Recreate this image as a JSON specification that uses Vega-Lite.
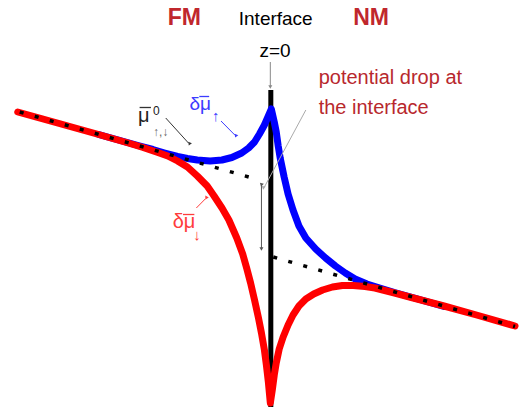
{
  "$schema": "https://vega.github.io/schema/vega-lite/v6.json",
  "width": 522,
  "height": 411,
  "padding": 0,
  "autosize": {"type": "fit", "contains": "padding"},
  "background": "white",
  "config": {"view": {"stroke": null}},
  "datasets": {
    "curves": [
      {"s": "blue", "i": 1, "x": 100, "y": 134.5},
      {"s": "blue", "i": 2, "x": 120, "y": 140},
      {"s": "blue", "i": 3, "x": 140, "y": 145.5},
      {"s": "blue", "i": 4, "x": 155, "y": 149.5},
      {"s": "blue", "i": 5, "x": 167, "y": 153},
      {"s": "blue", "i": 6, "x": 180, "y": 156.5},
      {"s": "blue", "i": 7, "x": 190, "y": 158.5},
      {"s": "blue", "i": 8, "x": 200, "y": 160},
      {"s": "blue", "i": 9, "x": 213, "y": 161},
      {"s": "blue", "i": 10, "x": 225, "y": 160},
      {"s": "blue", "i": 11, "x": 235, "y": 157.5},
      {"s": "blue", "i": 12, "x": 245, "y": 153},
      {"s": "blue", "i": 13, "x": 252, "y": 148},
      {"s": "blue", "i": 14, "x": 258, "y": 142},
      {"s": "blue", "i": 15, "x": 263, "y": 134},
      {"s": "blue", "i": 16, "x": 268, "y": 125},
      {"s": "blue", "i": 17, "x": 272, "y": 116},
      {"s": "blue", "i": 18, "x": 275, "y": 109},
      {"s": "blue", "i": 19, "x": 278, "y": 122},
      {"s": "blue", "i": 20, "x": 280, "y": 132},
      {"s": "blue", "i": 21, "x": 282, "y": 146},
      {"s": "blue", "i": 22, "x": 284, "y": 158},
      {"s": "blue", "i": 23, "x": 288, "y": 177},
      {"s": "blue", "i": 24, "x": 292, "y": 194},
      {"s": "blue", "i": 25, "x": 297, "y": 210},
      {"s": "blue", "i": 26, "x": 303, "y": 226},
      {"s": "blue", "i": 27, "x": 310, "y": 238},
      {"s": "blue", "i": 28, "x": 320, "y": 249},
      {"s": "blue", "i": 29, "x": 330, "y": 258},
      {"s": "blue", "i": 30, "x": 340, "y": 266},
      {"s": "blue", "i": 31, "x": 350, "y": 273},
      {"s": "blue", "i": 32, "x": 360, "y": 279},
      {"s": "blue", "i": 33, "x": 372, "y": 284},
      {"s": "blue", "i": 34, "x": 385, "y": 288},
      {"s": "blue", "i": 35, "x": 400, "y": 292.5},
      {"s": "blue", "i": 36, "x": 420, "y": 298},
      {"s": "blue", "i": 37, "x": 450, "y": 306.5},
      {"s": "red", "i": 1, "x": 18, "y": 112},
      {"s": "red", "i": 2, "x": 60, "y": 123.5},
      {"s": "red", "i": 3, "x": 100, "y": 134.5},
      {"s": "red", "i": 4, "x": 130, "y": 143},
      {"s": "red", "i": 5, "x": 145, "y": 147.5},
      {"s": "red", "i": 6, "x": 160, "y": 152.5},
      {"s": "red", "i": 7, "x": 170, "y": 156},
      {"s": "red", "i": 8, "x": 180, "y": 161},
      {"s": "red", "i": 9, "x": 190, "y": 167},
      {"s": "red", "i": 10, "x": 200, "y": 176},
      {"s": "red", "i": 11, "x": 210, "y": 186},
      {"s": "red", "i": 12, "x": 217, "y": 196},
      {"s": "red", "i": 13, "x": 225, "y": 208},
      {"s": "red", "i": 14, "x": 232, "y": 220},
      {"s": "red", "i": 15, "x": 240, "y": 238},
      {"s": "red", "i": 16, "x": 246, "y": 254},
      {"s": "red", "i": 17, "x": 250, "y": 268},
      {"s": "red", "i": 18, "x": 254, "y": 283},
      {"s": "red", "i": 19, "x": 258, "y": 300},
      {"s": "red", "i": 20, "x": 262, "y": 318},
      {"s": "red", "i": 21, "x": 265, "y": 333},
      {"s": "red", "i": 22, "x": 268, "y": 350},
      {"s": "red", "i": 23, "x": 270, "y": 365},
      {"s": "red", "i": 24, "x": 272, "y": 382},
      {"s": "red", "i": 25, "x": 274, "y": 403},
      {"s": "red", "i": 26, "x": 276, "y": 390},
      {"s": "red", "i": 27, "x": 278, "y": 375},
      {"s": "red", "i": 28, "x": 280, "y": 363},
      {"s": "red", "i": 29, "x": 283, "y": 349},
      {"s": "red", "i": 30, "x": 287, "y": 337},
      {"s": "red", "i": 31, "x": 292, "y": 325},
      {"s": "red", "i": 32, "x": 297, "y": 315},
      {"s": "red", "i": 33, "x": 303, "y": 306},
      {"s": "red", "i": 34, "x": 310, "y": 299},
      {"s": "red", "i": 35, "x": 318, "y": 294},
      {"s": "red", "i": 36, "x": 327, "y": 290},
      {"s": "red", "i": 37, "x": 337, "y": 287},
      {"s": "red", "i": 38, "x": 347, "y": 285.5},
      {"s": "red", "i": 39, "x": 358, "y": 285.5},
      {"s": "red", "i": 40, "x": 370, "y": 286.5},
      {"s": "red", "i": 41, "x": 380, "y": 288},
      {"s": "red", "i": 42, "x": 390, "y": 290.5},
      {"s": "red", "i": 43, "x": 400, "y": 293},
      {"s": "red", "i": 44, "x": 417, "y": 297.5},
      {"s": "red", "i": 45, "x": 450, "y": 306},
      {"s": "red", "i": 46, "x": 483, "y": 315},
      {"s": "red", "i": 47, "x": 522, "y": 326}
    ],
    "dots": [
      {"s": "FM", "x": 20, "y": 112},
      {"s": "FM", "x": 263, "y": 180},
      {"s": "NM", "x": 277, "y": 257},
      {"s": "NM", "x": 522, "y": 326.5}
    ],
    "arrows": [
      {"id": "z0", "x": 274, "y": 62},
      {"id": "z0", "x": 274, "y": 86},
      {"id": "pdrop", "x": 310, "y": 110},
      {"id": "pdrop", "x": 268, "y": 187},
      {"id": "dbl", "x": 265, "y": 185},
      {"id": "dbl", "x": 265, "y": 249},
      {"id": "mu0", "x": 168, "y": 118},
      {"id": "mu0", "x": 191, "y": 143},
      {"id": "blue", "x": 224, "y": 121},
      {"id": "blue", "x": 238, "y": 135},
      {"id": "red", "x": 199, "y": 208},
      {"id": "red", "x": 208, "y": 199}
    ],
    "heads": [
      {"id": "z0", "head": "down", "x": 274, "y": 87},
      {"id": "pdrop", "head": "pdrop", "x": 267, "y": 188},
      {"id": "dbl", "head": "up", "x": 265, "y": 185},
      {"id": "dbl", "head": "down", "x": 265, "y": 249},
      {"id": "mu0", "head": "diag", "x": 192, "y": 144},
      {"id": "blue", "head": "diag", "x": 239, "y": 136},
      {"id": "red", "head": "upright", "x": 209, "y": 198}
    ],
    "bars": [
      {"id": "mu0", "x": 141.5, "x2": 153, "y": 107.5},
      {"id": "blue", "x": 202, "x2": 212, "y": 96.5},
      {"id": "red", "x": 185.5, "x2": 197, "y": 214.5}
    ]
  },
  "layer": [
    {
      "data": {"values": [{"x": 274.5, "y": 90, "y2": 407}]},
      "mark": {"type": "rule", "color": "black", "strokeWidth": 5},
      "encoding": {
        "x": {"field": "x", "type": "quantitative", "scale": {"domain": [0, 522], "nice": false, "zero": false}, "axis": null},
        "y": {"field": "y", "type": "quantitative", "scale": {"domain": [0, 411], "nice": false, "zero": false, "reverse": true}, "axis": null},
        "y2": {"field": "y2"}
      }
    },
    {
      "data": {"name": "curves"},
      "transform": [{"filter": "datum.s === 'blue'"}],
      "mark": {"type": "line", "color": "#0000ff", "strokeWidth": 7, "strokeCap": "round", "strokeJoin": "round"},
      "encoding": {
        "x": {"field": "x", "type": "quantitative"},
        "y": {"field": "y", "type": "quantitative"},
        "order": {"field": "i", "type": "quantitative"}
      }
    },
    {
      "data": {"name": "curves"},
      "transform": [{"filter": "datum.s === 'red'"}],
      "mark": {"type": "line", "color": "#ff0000", "strokeWidth": 7, "strokeCap": "round", "strokeJoin": "round"},
      "encoding": {
        "x": {"field": "x", "type": "quantitative"},
        "y": {"field": "y", "type": "quantitative"},
        "order": {"field": "i", "type": "quantitative"}
      }
    },
    {
      "data": {"name": "dots"},
      "mark": {"type": "line", "color": "black", "strokeWidth": 3.5, "strokeDash": [4, 11.6], "strokeCap": "butt"},
      "encoding": {
        "x": {"field": "x", "type": "quantitative"},
        "y": {"field": "y", "type": "quantitative"},
        "detail": {"field": "s"}
      }
    },
    {
      "data": {"name": "arrows"},
      "mark": {"type": "line", "strokeWidth": 1},
      "encoding": {
        "x": {"field": "x", "type": "quantitative"},
        "y": {"field": "y", "type": "quantitative"},
        "detail": {"field": "id"},
        "color": {"field": "id", "type": "nominal", "legend": null,
          "scale": {"domain": ["z0", "pdrop", "dbl", "mu0", "blue", "red"], "range": ["#888888", "#aaaaaa", "#555555", "#333333", "#3c3cff", "#ff3c3c"]}}
      }
    },
    {
      "data": {"name": "heads"},
      "mark": {"type": "point", "shape": "triangle-up", "filled": true, "size": 16, "opacity": 1, "strokeWidth": 0},
      "encoding": {
        "x": {"field": "x", "type": "quantitative"},
        "y": {"field": "y", "type": "quantitative"},
        "color": {"field": "id", "type": "nominal", "legend": null},
        "angle": {"field": "head", "type": "nominal", "legend": null,
          "scale": {"domain": ["down", "pdrop", "up", "diag", "upright"], "range": [180, 209, 0, 137, 45]}}
      }
    },
    {
      "data": {"name": "bars"},
      "mark": {"type": "rule", "strokeWidth": 1.3},
      "encoding": {
        "x": {"field": "x", "type": "quantitative"},
        "x2": {"field": "x2"},
        "y": {"field": "y", "type": "quantitative"},
        "color": {"field": "id", "type": "nominal", "legend": null}
      }
    },
    {
      "data": {"values": [{"t": "FM", "x": 170, "y": 25}, {"t": "NM", "x": 358, "y": 25}]},
      "mark": {"type": "text", "align": "left", "baseline": "alphabetic", "font": "Liberation Sans", "fontWeight": "bold", "fontSize": 23, "color": "#c0272d"},
      "encoding": {"x": {"field": "x", "type": "quantitative"}, "y": {"field": "y", "type": "quantitative"}, "text": {"field": "t"}}
    },
    {
      "data": {"values": [{"t": "Interface", "x": 242, "y": 25}, {"t": "z=0", "x": 263, "y": 57}]},
      "mark": {"type": "text", "align": "left", "baseline": "alphabetic", "font": "Liberation Sans", "fontSize": 19, "color": "#000000"},
      "encoding": {"x": {"field": "x", "type": "quantitative"}, "y": {"field": "y", "type": "quantitative"}, "text": {"field": "t"}}
    },
    {
      "data": {"values": [{"t": "potential drop at", "x": 323, "y": 84}, {"t": "the interface", "x": 323, "y": 114}]},
      "mark": {"type": "text", "align": "left", "baseline": "alphabetic", "font": "Liberation Sans", "fontSize": 20, "color": "#b8282d"},
      "encoding": {"x": {"field": "x", "type": "quantitative"}, "y": {"field": "y", "type": "quantitative"}, "text": {"field": "t"}}
    },
    {
      "data": {"values": [{"t": "μ", "x": 140, "y": 122}]},
      "mark": {"type": "text", "align": "left", "baseline": "alphabetic", "font": "Liberation Sans", "fontSize": 20, "color": "#222222"},
      "encoding": {"x": {"field": "x", "type": "quantitative"}, "y": {"field": "y", "type": "quantitative"}, "text": {"field": "t"}}
    },
    {
      "data": {"values": [{"t": "0", "x": 155, "y": 115}]},
      "mark": {"type": "text", "align": "left", "baseline": "alphabetic", "font": "Liberation Sans", "fontSize": 12, "color": "#222222"},
      "encoding": {"x": {"field": "x", "type": "quantitative"}, "y": {"field": "y", "type": "quantitative"}, "text": {"field": "t"}}
    },
    {
      "data": {"values": [{"t": "↑,↓", "x": 155, "y": 136}]},
      "mark": {"type": "text", "align": "left", "baseline": "alphabetic", "font": "Liberation Sans", "fontSize": 12, "color": "#666666"},
      "encoding": {"x": {"field": "x", "type": "quantitative"}, "y": {"field": "y", "type": "quantitative"}, "text": {"field": "t"}}
    },
    {
      "data": {"values": [{"t": "δμ", "x": 192, "y": 110}]},
      "mark": {"type": "text", "align": "left", "baseline": "alphabetic", "font": "Liberation Sans", "fontSize": 19, "color": "#3c3cff"},
      "encoding": {"x": {"field": "x", "type": "quantitative"}, "y": {"field": "y", "type": "quantitative"}, "text": {"field": "t"}}
    },
    {
      "data": {"values": [{"t": "↑", "x": 215, "y": 121}]},
      "mark": {"type": "text", "align": "left", "baseline": "alphabetic", "font": "Liberation Sans", "fontSize": 15, "color": "#3c3cff"},
      "encoding": {"x": {"field": "x", "type": "quantitative"}, "y": {"field": "y", "type": "quantitative"}, "text": {"field": "t"}}
    },
    {
      "data": {"values": [{"t": "δμ", "x": 175, "y": 228}]},
      "mark": {"type": "text", "align": "left", "baseline": "alphabetic", "font": "Liberation Sans", "fontSize": 20, "color": "#ff3c3c"},
      "encoding": {"x": {"field": "x", "type": "quantitative"}, "y": {"field": "y", "type": "quantitative"}, "text": {"field": "t"}}
    },
    {
      "data": {"values": [{"t": "↓", "x": 196, "y": 240}]},
      "mark": {"type": "text", "align": "left", "baseline": "alphabetic", "font": "Liberation Sans", "fontSize": 15, "color": "#ff3c3c"},
      "encoding": {"x": {"field": "x", "type": "quantitative"}, "y": {"field": "y", "type": "quantitative"}, "text": {"field": "t"}}
    }
  ]
}
